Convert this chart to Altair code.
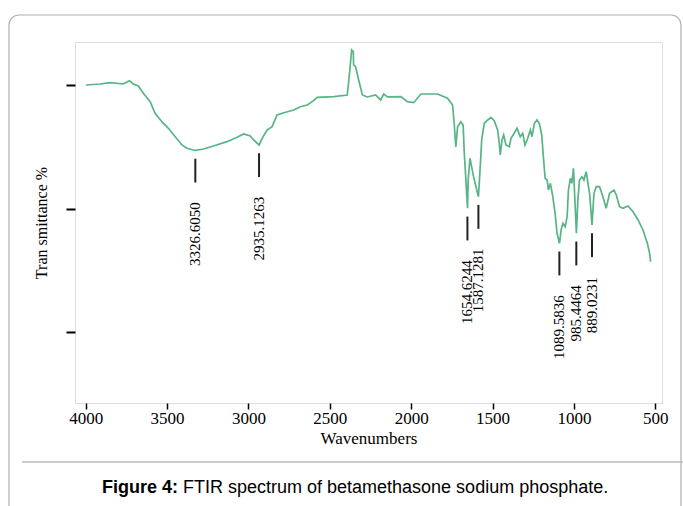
import altair as alt
import pandas as pd

# Spectrum (wavenumber cm-1, transmittance in arbitrary %-units)
wavenumber = [4000, 3912, 3851, 3769, 3732, 3707, 3677, 3646, 3604, 3574, 3532, 3492, 3450,
              3409, 3378, 3338, 3326, 3276, 3215, 3132, 3070, 3030, 2989, 2968, 2935, 2916,
              2886, 2855, 2824, 2783, 2722, 2681, 2639, 2600, 2578, 2475, 2393, 2379, 2366,
              2356, 2354, 2342, 2323, 2300, 2270, 2219, 2188, 2169, 2146, 2064, 2023, 1984,
              1941, 1880, 1838, 1777, 1746, 1736, 1726, 1715, 1695, 1681, 1674, 1664, 1654,
              1650, 1639, 1629, 1617, 1602, 1587, 1576, 1567, 1551, 1530, 1510, 1490, 1469,
              1459, 1453, 1442, 1432, 1418, 1397, 1387, 1367, 1350, 1342, 1330, 1315, 1301,
              1284, 1268, 1258, 1243, 1227, 1213, 1198, 1188, 1177, 1165, 1157, 1145, 1130,
              1116, 1104, 1089, 1079, 1068, 1054, 1042, 1034, 1022, 1013, 1003, 997, 985,
              976, 966, 951, 939, 925, 914, 904, 889, 877, 863, 843, 822, 802, 781, 754, 740,
              720, 699, 668, 637, 606, 576, 549, 535, 529]
transmittance = [90.0, 90.24, 90.56, 90.24, 91.04, 90.24, 89.76, 87.98, 85.94, 83.13, 81.09,
                 79.48, 77.44, 75.43, 74.62, 74.21, 74.1, 74.45, 75.18, 76.23, 77.30, 78.10,
                 77.61, 76.64, 75.43, 77.05, 79.07, 79.87, 82.71, 83.27, 83.93, 84.73, 85.14,
                 86.19, 87.01, 87.16, 87.57, 92.91, 98.50, 98.09, 94.86, 94.45, 91.21, 87.57,
                 87.09, 87.57, 86.36, 87.81, 87.09, 87.16, 85.94, 85.70, 87.81, 87.81, 87.81,
                 86.77, 85.14, 80.77, 74.94, 79.87, 81.09, 80.28, 73.48, 66.92, 60.05, 66.92,
                 72.20, 70.16, 67.73, 65.30, 62.87, 70.16, 76.64, 80.70, 81.50, 82.15, 81.33,
                 79.07, 75.84, 73.00, 76.64, 77.86, 75.43, 75.01, 77.05, 78.27, 79.48, 78.66,
                 77.44, 78.27, 75.43, 77.05, 79.07, 77.44, 80.70, 81.50, 80.70, 77.86, 72.58,
                 67.34, 66.92, 64.50, 66.12, 62.87, 58.84, 53.98, 51.55, 54.78, 56.41, 55.58,
                 58.01, 64.50, 67.34, 66.12, 69.77, 64.50, 53.98, 62.07, 66.92, 67.73, 66.92,
                 68.94, 66.12, 63.69, 55.99, 63.69, 65.30, 65.30, 62.87, 60.05, 63.69, 64.50,
                 63.28, 60.44, 60.05, 60.61, 59.22, 57.21, 54.78, 51.55, 49.12, 47.08]

# Labelled bands
peak_wn = [3326.6050, 2935.1263, 1654.6244, 1587.1281, 1089.5836, 985.4464, 889.0231]
peak_label = ["3326.6050", "2935.1263", "1654.6244", "1587.1281", "1089.5836", "985.4464", "889.0231"]
peak_t = [74.1, 75.43, 60.05, 62.87, 51.55, 53.98, 55.99]

x_ticks = [4000, 3500, 3000, 2500, 2000, 1500, 1000, 500]
y_ticks = [30, 60, 90]

spec = pd.DataFrame({"wn": wavenumber, "t": transmittance})
peaks = pd.DataFrame({"wn": peak_wn, "label": peak_label, "t": peak_t})

SERIF = "Liberation Serif"

xscale = alt.Scale(domain=[459, 4066], reverse=True, nice=False, zero=False)
yscale = alt.Scale(domain=[12.76, 100.44], nice=False, zero=False)

x_enc = alt.X("wn:Q", scale=xscale,
              axis=alt.Axis(values=x_ticks, format="d", title="Wavenumbers",
                            labelFont=SERIF, titleFont=SERIF, labelFontSize=17,
                            titleFontSize=17, titleFontWeight="normal",
                            labelFontWeight="normal",
                            labelColor="black", titleColor="black",
                            tickColor="black", tickSize=6, tickWidth=1.5,
                            grid=False, domain=False, labelPadding=1,
                            titlePadding=4, labelFlush=False))
y_enc = alt.Y("t:Q", scale=yscale,
              axis=alt.Axis(values=y_ticks, labels=False, title="Tran smittance %",
                            titleFont=SERIF, titleFontSize=16, titleFontWeight="normal",
                            titleColor="black", tickColor="black", tickSize=9,
                            tickWidth=2, grid=False, domain=False, titlePadding=16))

line = alt.Chart(spec).mark_line(color="#57b485", strokeWidth=1.7).encode(
    x=x_enc, y=y_enc)

ticks = alt.Chart(peaks).transform_calculate(
    y1="datum.t - 2.0", y2="datum.t - 7.8"
).mark_rule(color="#222222", strokeWidth=2).encode(
    x="wn:Q", y="y1:Q", y2="y2:Q")

labels = alt.Chart(peaks).transform_calculate(
    ty="datum.t - 12.6"
).mark_text(angle=270, align="right", baseline="middle", font=SERIF,
            fontSize=15, color="black").encode(
    x="wn:Q", y="ty:Q", text="label:N")

one = pd.DataFrame({"a": [0]})

frame = alt.Chart(one).mark_rect(fill=None, stroke="#b0b0b0", strokeWidth=1.2,
                                 cornerRadius=10).encode(
    x=alt.value(-66), x2=alt.value(606), y=alt.value(-27), y2=alt.value(500))

sep = alt.Chart(one).mark_rule(color="#bbbbbb", strokeWidth=1.5).encode(
    x=alt.value(-53), x2=alt.value(610), y=alt.value(420))

cap1 = alt.Chart(one).mark_text(text="Figure 4:", font="Liberation Sans", fontSize=18,
                                fontWeight="bold", align="right", baseline="alphabetic",
                                color="black").encode(
    x=alt.value(103), y=alt.value(451))
cap2 = alt.Chart(one).mark_text(text="FTIR spectrum of betamethasone sodium phosphate.",
                                font="Liberation Sans", fontSize=18, align="left",
                                baseline="alphabetic", color="black").encode(
    x=alt.value(108), y=alt.value(451))

chart = alt.layer(frame, sep, cap1, cap2, line, ticks, labels).properties(
    width=587, height=361,
    autosize=alt.AutoSizeParams(type="none"),
    padding={"left": 75, "top": 42, "right": 21, "bottom": 103},
).configure_view(stroke="black", strokeWidth=2).configure(
    background="white"
).configure_axis(labelFont=SERIF, titleFont=SERIF)

chart.save("out.html", embed_options={"renderer": "svg", "actions": False})
